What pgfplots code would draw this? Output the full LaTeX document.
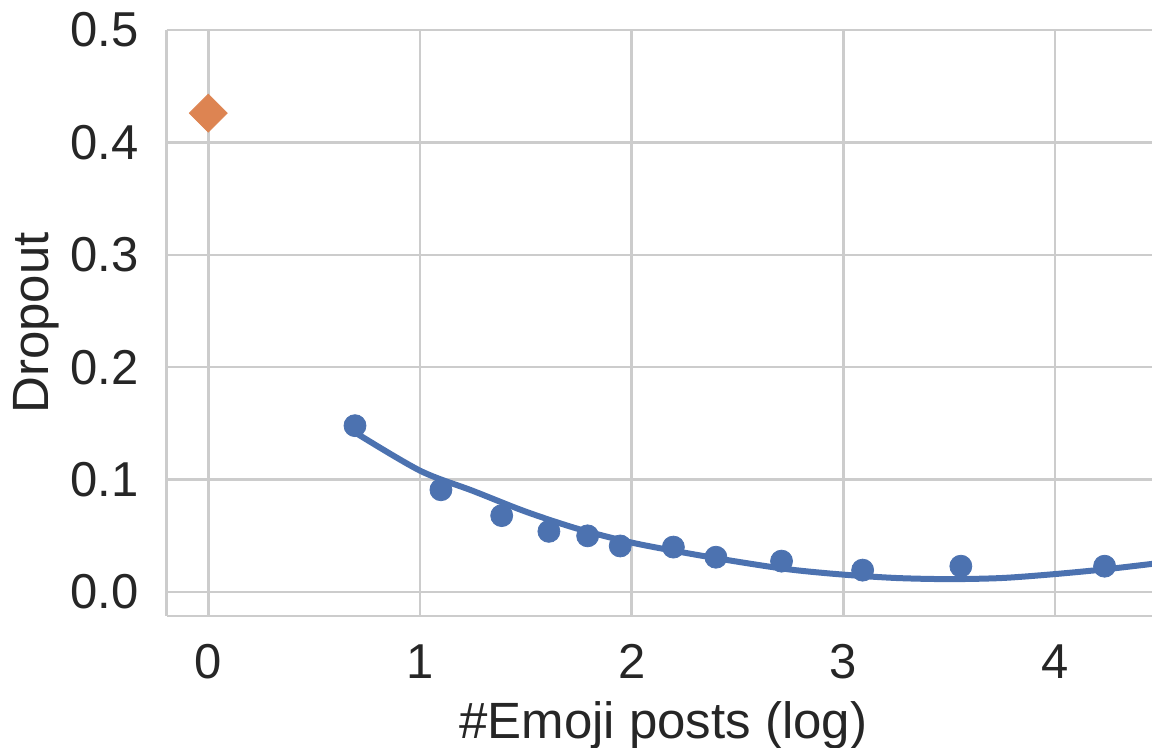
\documentclass[border=0pt]{standalone}
\usepackage{fontspec}
\setmainfont{Liberation Sans}
\usepackage{pgfplots}
\pgfplotsset{compat=1.18}
\definecolor{sbblue}{HTML}{4C72B0}
\definecolor{sborange}{HTML}{DD8452}
\definecolor{gridgray}{HTML}{CCCCCC}
\definecolor{txt}{HTML}{262626}
\begin{document}
\begin{tikzpicture}
\begin{axis}[
  scale only axis, width=492.65pt, height=293pt,
  xmin=-0.1965, xmax=4.458, ymin=-0.0213, ymax=0.5,
  xtick={0,1,2,3,4},
  ytick={0,0.1,0.2,0.3,0.4,0.5},
  yticklabel style={/pgf/number format/fixed, /pgf/number format/fixed zerofill, /pgf/number format/precision=1},
  /pgf/number format/assume math mode=true,
  grid=major, major grid style={gridgray, line width=1.25pt},
  major tick length=0pt,
  separate axis lines, axis x line*=box, axis y line*=left,
  axis line style={gridgray, line width=1.25pt},
  every tick label/.append style={font=\fontsize{24.5}{29}\selectfont, text=txt},
  yticklabel style={anchor=east, inner sep=0pt, xshift=-14pt},
  xticklabel style={anchor=north, inner sep=0pt, yshift=-14pt},
  xlabel={\#Emoji posts (log)},
  ylabel={Dropout},
  label style={font=\fontsize{25.5}{30}\selectfont, text=txt, inner sep=0pt},
  xlabel style={at={(axis description cs:0.504,-0.145)}, anchor=north},
  ylabel style={at={(axis description cs:-0.156,0.5)}, anchor=north},
]
\addplot[only marks, mark=*, mark size=5.5pt, color=sbblue] coordinates {
  (0.693,0.148) (1.099,0.091) (1.386,0.068) (1.609,0.054) (1.792,0.050)
  (1.946,0.041) (2.197,0.040) (2.398,0.031) (2.708,0.0275) (3.091,0.0195)
  (3.555,0.023) (4.234,0.023)
};
\addplot[smooth, line width=3pt, color=sbblue] coordinates {
  (0.693,0.142) (1.0,0.108) (1.25,0.090) (1.5,0.0715) (1.75,0.056)
  (2.0,0.0440) (2.25,0.0350) (2.5,0.0270) (2.75,0.0200) (3.0,0.0155)
  (3.25,0.0125) (3.5,0.0115) (3.75,0.0125) (4.0,0.0160) (4.25,0.0205) (4.5,0.026)
};
\addplot[only marks, mark=square*, mark size=6.7pt, mark options={rotate=45}, color=sborange] coordinates {
  (0,0.426)
};
\end{axis}
\pgfresetboundingbox
\path ([xshift=-83.35pt,yshift=-66pt]current axis.south west) rectangle ([yshift=15pt]current axis.north east);
\end{tikzpicture}
\end{document}
